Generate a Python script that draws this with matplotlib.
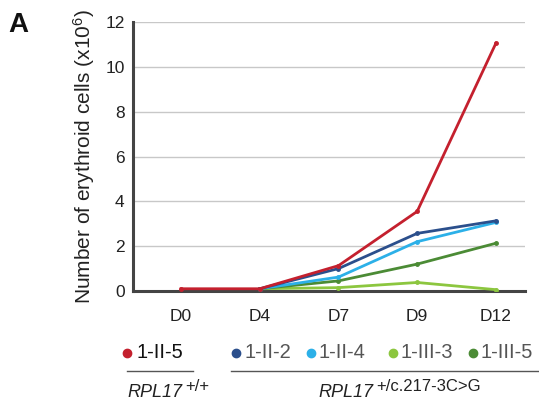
import matplotlib
matplotlib.use("Agg")
import matplotlib.pyplot as plt
from matplotlib.lines import Line2D

plt.rcParams['font.family'] = ['Liberation Sans', 'DejaVu Sans']
plt.rcParams['mathtext.fontset'] = 'custom'
plt.rcParams['mathtext.rm'] = 'Liberation Sans'
plt.rcParams['mathtext.it'] = 'Liberation Sans:italic'
plt.rcParams['mathtext.bf'] = 'Liberation Sans:bold'

days = ["D0", "D4", "D7", "D9", "D12"]
series_names = ["1-II-5", "1-II-2", "1-II-4", "1-III-3", "1-III-5"]
colors = ["#c4202e", "#2b4f8c", "#2cb0e8", "#8cc63f", "#4b8b35"]
red_vals = [0.1, 0.1, 1.13, 3.55, 11.05]
dblue_vals = [None, 0.1, 1.0, 2.57, 3.13]
lblue_vals = [None, 0.1, 0.62, 2.2, 3.06]
lgreen_vals = [None, 0.1, 0.15, 0.38, 0.06]
dgreen_vals = [None, 0.1, 0.45, 1.2, 2.13]
yticks = [0, 2, 4, 6, 8, 10, 12]

W, H = 539, 403
fig = plt.figure(figsize=(W / 100, H / 100), dpi=100)
ax = fig.add_axes([133 / W, 1 - 291 / H, (525 - 133) / W, (291 - 22) / H])

series = [red_vals, dblue_vals, lblue_vals, lgreen_vals, dgreen_vals]
order = [3, 4, 2, 1, 0]  # drawing order: red on top
for k, i in enumerate(order):
    vals = series[i]
    xs = [j for j, v in enumerate(vals) if v is not None]
    ys = [v for v in vals if v is not None]
    ax.plot(xs, ys, color=colors[i], lw=2.0, marker='o', markersize=2.5, zorder=3 + k * 0.1)

ax.set_xlim(-0.61, 4.37)
ax.set_ylim(0, 12)
ax.set_yticks(yticks)
ax.set_yticklabels([str(t) for t in yticks])
ax.set_xticks(range(len(days)))
ax.set_xticklabels(days)
ax.tick_params(axis='both', length=0, labelsize=12.5, colors='#222222')
ax.tick_params(axis='x', pad=13)
ax.tick_params(axis='y', pad=6)
ax.grid(axis='y', color='#c8c8c8', lw=1.0)
ax.set_axisbelow(True)
for s in ['top', 'right']:
    ax.spines[s].set_visible(False)
for s in ['left', 'bottom']:
    ax.spines[s].set_color('#444444')
    ax.spines[s].set_linewidth(2.2)
ax.set_ylabel("Number of erythroid cells (x10$^{6}$)", fontsize=15, color='#222222', labelpad=6)

fig.text(8 / W, 1 - 32 / H, "A", fontsize=20, fontweight='bold', color='#111111', ha='left', va='baseline')

# legend row
ly = 1 - 353 / H
legend_x = [(127, 136), (236, 244), (311, 319), (393, 401), (473, 481)]
text_colors = ['#111111', '#555555', '#555555', '#555555', '#555555']
for (dx, tx), name, c, tc in zip(legend_x, series_names, colors, text_colors):
    fig.add_artist(Line2D([dx / W], [ly], marker='o', markersize=6, color=c, lw=0))
    fig.text(tx / W, ly, name, color=tc, fontsize=14.5, ha='left', va='center')

ly2 = 1 - 371 / H
fig.add_artist(Line2D([127 / W, 193 / W], [ly2, ly2], color='#555555', lw=1.0))
fig.add_artist(Line2D([231 / W, 539 / W], [ly2, ly2], color='#555555', lw=1.0))

renderer = fig.canvas.get_renderer()
genotypes = [("RPL17", "+/+", 127), ("RPL17", "+/c.217-3C>G", 318)]
for gene, sup, x0 in genotypes:
    t = fig.text(x0 / W, 1 - 397 / H, gene, fontsize=13, style='italic', color='#222222',
                 ha='left', va='baseline')
    bb = t.get_window_extent(renderer=renderer)
    fig.text((bb.x1 + 3) / W, 1 - 391 / H, sup, fontsize=12, color='#222222',
             ha='left', va='baseline')

fig.savefig("out.png", dpi=100)
